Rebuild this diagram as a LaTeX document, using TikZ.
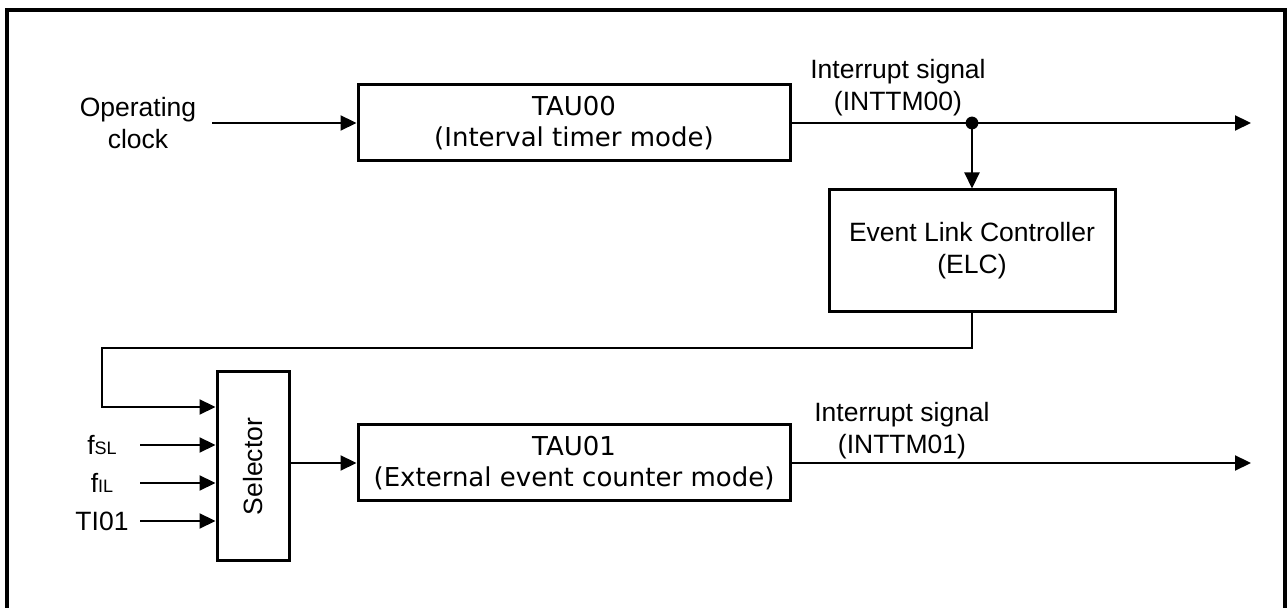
\documentclass[tikz,border=0pt]{standalone}
\usepackage{fontspec}
\setmainfont{Liberation Sans}
\newfontfamily\gothic{DejaVu Sans}
\usetikzlibrary{arrows.meta,positioning}

\begin{document}
\begin{tikzpicture}[x=0.5pt, y=-0.5pt,
        every node/.style={font=\fontsize{13.25}{16}\selectfont},
        block/.style={rectangle, draw, line width=1.5pt, inner sep=0pt, align=center},
        timer/.style={block, minimum width=216pt, minimum height=38pt, font=\gothic\fontsize{13}{15.5}\selectfont},
        signal/.style={align=center, inner sep=0pt},
        arrow/.style={-{Triangle[length=8pt,width=7.5pt]}, line width=1.1pt},
        frame/.style={line width=1.6pt}]

    \useasboundingbox (0,0) rectangle (1287,608);
    \draw[frame] (7,640) -- (7,10) -- (1285,10) -- (1285,640);

    % channel 0: interval timer
    \node[signal, minimum width=74pt] (clk) at (138,123) {Operating\\clock};
    \node[timer] (tau0) at (574,123) {TAU00\\(Interval timer mode)};
    \node[signal] (int0) at (898,88) {Interrupt signal\\(INTTM00)};
    \coordinate (split) at (972,123);
    \coordinate (out0) at (1251,123);

    % event link controller
    \node[block, minimum width=143pt, minimum height=61pt] (elc) at (972,251) {Event Link Controller\\(ELC)};

    % channel 1: selector and event counter
    \node[block, rotate=90, minimum width=94.5pt, minimum height=36pt] (sel) at (253,466.5) {Selector};
    \node[timer] (tau1) at (574,463) {TAU01\\(External event counter mode)};
    \node[signal] (int1) at (902,431) {Interrupt signal\\(INTTM01)};
    \coordinate (out1) at (1251,463);

    \node[signal, minimum width=38pt] (fsl) at (102,445) {f{\fontsize{9}{10}\selectfont SL}};
    \node[signal, minimum width=38pt] (fil) at (102,483) {f{\fontsize{9}{10}\selectfont IL}};
    \node[signal, minimum width=38pt] (ti) at (102,521) {TI01};

    \coordinate (bend) at (102,348);
    \coordinate (fbin) at (102,407);

    \draw[arrow] (clk) -- (tau0);
    \draw[line width=1.1pt] (tau0) -- (split);
    \draw[arrow] (split) -- (out0);
    \fill (split) circle (3.2pt);
    \draw[arrow] (split) -- (elc);

    \draw[arrow] (elc.south) |- (bend) -- (fbin) -- (fbin -| sel.north);
    \foreach \n in {fsl,fil,ti}
        \draw[arrow] (\n) -- (\n -| sel.north);

    \draw[arrow] (tau1.west -| sel.south) -- (tau1);
    \draw[arrow] (tau1) -- (out1);
\end{tikzpicture}
\end{document}
